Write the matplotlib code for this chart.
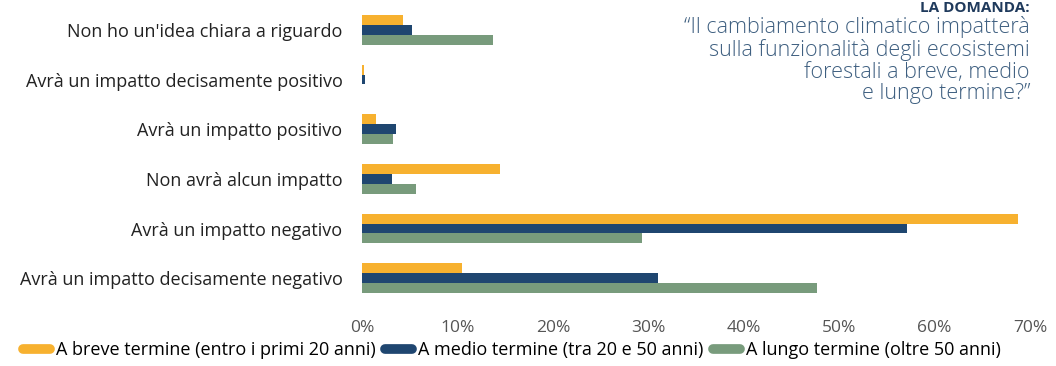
import numpy as np
import matplotlib.pyplot as plt
from matplotlib.lines import Line2D

# Dati
categorie = ["Non ho un'idea chiara a riguardo",
             "Avrà un impatto decisamente positivo",
             "Avrà un impatto positivo",
             "Non avrà alcun impatto",
             "Avrà un impatto negativo",
             "Avrà un impatto decisamente negativo"]
breve = [4.3, 0.2, 1.5, 14.5, 68.7, 10.5]
medio = [5.2, 0.3, 3.6, 3.1, 57.1, 31.0]
lungo = [13.7, 0.0, 3.2, 5.7, 29.3, 47.7]
serie = ["A breve termine (entro i primi 20 anni)",
         "A medio termine (tra 20 e 50 anni)",
         "A lungo termine (oltre 50 anni)"]
colori = ["#F7B12F", "#1F4670", "#789B7C"]
tick_x = [0, 10, 20, 30, 40, 50, 60, 70]

plt.rcParams['font.family'] = ['Open Sans', 'DejaVu Sans']

fig = plt.figure(figsize=(10.56, 3.66), dpi=100)
ax = fig.add_axes([362/1056, 1 - 303/366, (1030 - 362)/1056, (303 - 5)/366])

y = np.arange(len(categorie))
h = 0.2
for k, (vals, c) in enumerate(zip([breve, medio, lungo], colori)):
    ax.barh(y + (k - 1) * h, vals, height=h, color=c, label=serie[k])

ax.set_ylim(len(categorie) - 0.5, -0.5)
ax.set_xlim(0, 70)
ax.set_yticks(y)
ax.set_yticklabels(categorie, fontsize=13, color="#222222")
ax.set_xticks(tick_x)
ax.set_xticklabels([f"{t}%" for t in tick_x], fontsize=12.5, color="#555555")
ax.tick_params(length=0, axis='y', pad=14)
ax.tick_params(length=0, axis='x', pad=12)
for s in ax.spines.values():
    s.set_visible(False)

# Domanda
fig.text(1030/1056, 1 - 12/366, "LA DOMANDA:", ha='right', va='baseline',
         fontsize=11, fontweight='bold', color="#1F3A5C")
fig.text(1030/1056, 1 - 16/366,
         "\u201cIl cambiamento climatico impatterà\nsulla funzionalità degli ecosistemi\nforestali a breve, medio\ne lungo termine?\u201d",
         ha='right', va='top', fontsize=15.5, fontweight='light',
         color="#3E5F80", linespacing=1.05)

handles = [Line2D([0], [0], color=c, lw=7, solid_capstyle='round') for c in colori]
fig.legend(handles, serie, loc='lower left', bbox_to_anchor=(0.008, -0.02), ncol=3,
           frameon=False, fontsize=13, handlelength=1.5, handletextpad=0.35,
           columnspacing=0.5, borderpad=0.3)

fig.savefig("out.png", dpi=100)
